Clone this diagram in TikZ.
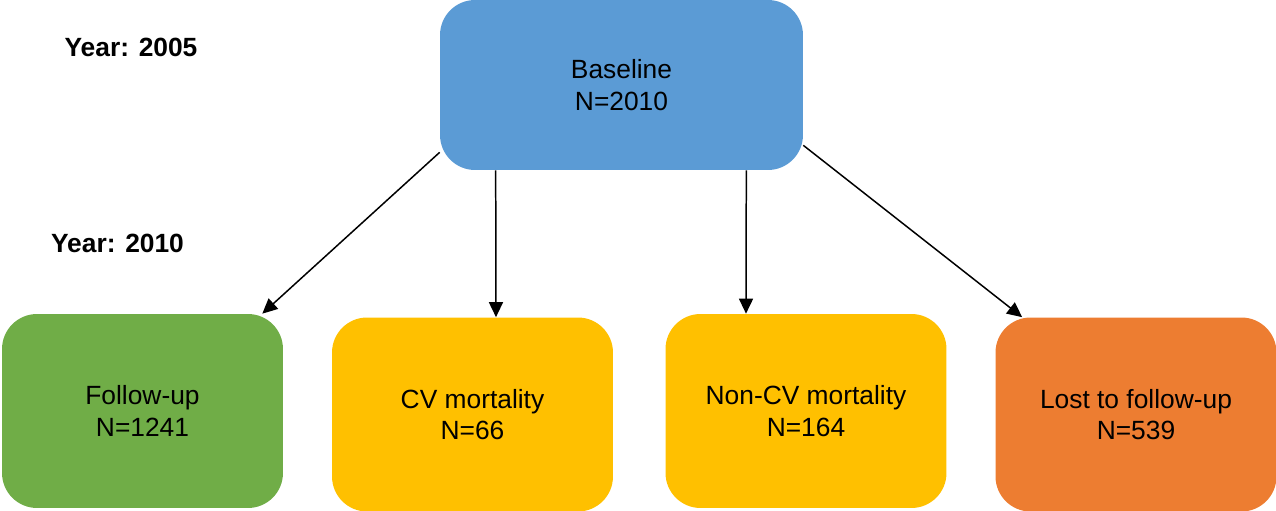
\documentclass[tikz,border=0pt]{standalone}
\usepackage{fontspec}
\setmainfont{Liberation Sans}
\usetikzlibrary{arrows.meta}
\usetikzlibrary{calc}

\definecolor{baseblue}{HTML}{5B9BD5}
\definecolor{fugreen}{HTML}{70AD47}
\definecolor{mortyellow}{HTML}{FFC000}
\definecolor{lostorange}{HTML}{ED7D31}

\tikzset{
    box/.style={rounded corners=0.7cm, align=center, inner sep=0pt,
        minimum width=5.62cm, minimum height=3.88cm,
        font=\fontsize{15}{18}\selectfont},
    flow/.style={-{Triangle[length=0.3cm, width=0.28cm]}, line width=0.85pt},
    year/.style={font=\fontsize{15}{18}\selectfont\bfseries}
}

\begin{document}
\begin{tikzpicture}[x=0.02cm, y=0.02cm]
    \useasboundingbox (0,0) rectangle (1276,511);

    \node[box, fill=baseblue, minimum width=7.26cm, minimum height=3.4cm] (base) at (621.5,426) {Baseline\\N=2010};
    \node[box, fill=fugreen] (followup) at (142.5,100) {Follow-up\\N=1241};
    \node[box, fill=mortyellow] (cvmort) at (472.5,96.5) {CV mortality\\N=66};
    \node[box, fill=mortyellow] (noncvmort) at (806,100) {Non-CV mortality\\N=164};
    \node[box, fill=lostorange] (lost) at (1136,96.5) {Lost to follow-up\\N=539};

    \node[year] (y2005) at (131,464) {Year: 2005};
    \node[year] (y2010) at (117.5,268) {Year: 2010};

    \draw[flow] ($(base.south west)+(0,18)$) -- ($(followup.north east)+(-21,0)$);
    \draw[flow] ($(base.south west)+(56,0)$) -- ($(cvmort.north)+(23.5,0)$);
    \draw[flow] ($(base.south east)+(-57,0)$) -- ($(noncvmort.north)+(-60,0)$);
    \draw[flow] ($(base.south east)+(0,25)$) -- ($(lost.north west)+(27,0)$);
\end{tikzpicture}
\end{document}
